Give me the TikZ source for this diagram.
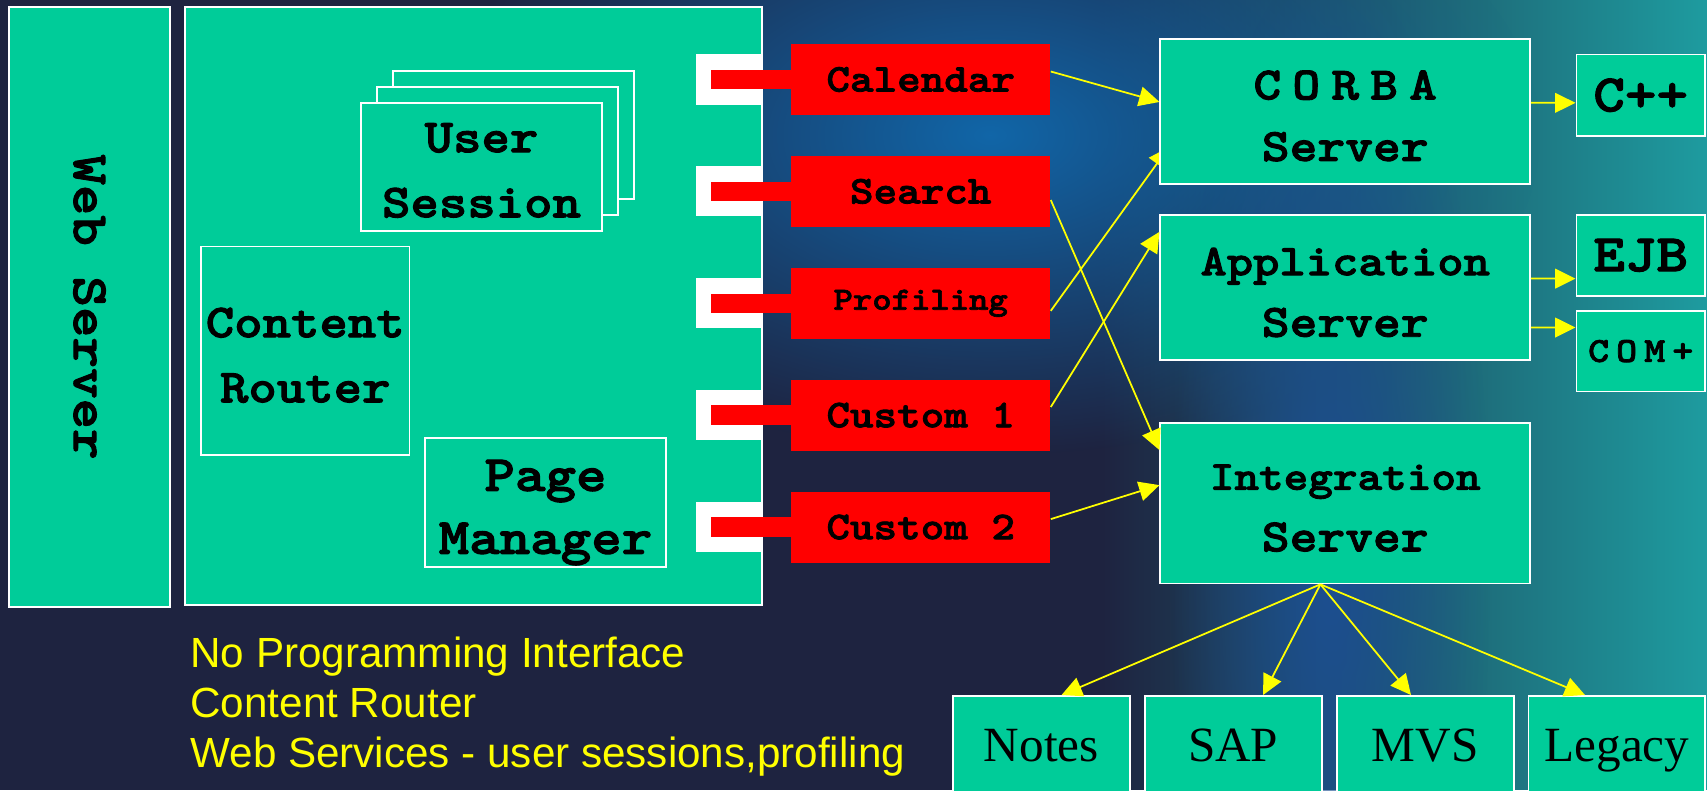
\documentclass[tikz,border=0pt]{standalone}
\usepackage{fontspec}
\setmainfont{Liberation Sans}
\newfontfamily\typefont[FakeStretch=1.14, FakeBold=2]{lmmonolt10-bold.otf}
\newfontfamily\timesfont{Liberation Serif}
\usetikzlibrary{arrows.meta,fadings}

\definecolor{boxgreen}{HTML}{00CC99}
\definecolor{plugred}{HTML}{FF0000}
\definecolor{wireyellow}{HTML}{FFFF00}
\definecolor{navy}{HTML}{1E2340}
\definecolor{glowblue}{HTML}{1166A8}
\definecolor{bandblue}{HTML}{1C4E92}
\definecolor{tealbg}{HTML}{1E9CA0}

\tikzfading[name=fade left, left color=transparent!100, right color=transparent!0]
\tikzfading[name=glow, inner color=transparent!0, outer color=transparent!100]

\pgfdeclarelayer{backdrop}
\pgfdeclarelayer{wires}
\pgfsetlayers{backdrop,wires,main}

\tikzset{
  box/.style={draw=white, line width=0.5pt, fill=boxgreen, inner sep=0pt, align=center},
  boxtext/.style={inner sep=0pt, align=center, font=\typefont\fontsize{13.5}{18.5}\selectfont},
  servertext/.style={boxtext, font=\typefont\fontsize{13.2}{17.5}\selectfont},
  port/.style={fill=white, inner sep=0pt, minimum width=0.655cm, minimum height=0.5cm},
  plugin/.style={fill=plugred, inner sep=0pt, minimum width=2.586cm, minimum height=0.71cm},
  plug/.style={draw=plugred, line width=0.195cm},
  server/.style={box, minimum width=3.695cm, minimum height=1.45cm},
  tech/.style={box, minimum width=1.286cm, font=\typefont\fontsize{15}{17}\selectfont},
  backend/.style={box, anchor=north, minimum width=1.767cm, minimum height=1.07cm, text height=0.344cm, text depth=0.1cm, font=\timesfont\fontsize{14}{16}\selectfont},
  wire/.style={draw=wireyellow, line width=0.5pt, -{Triangle[length=5.8pt,width=5.6pt]}},
  note/.style={anchor=base west, inner sep=0pt, text=wireyellow, font=\fontsize{12}{14}\selectfont}
}

\begin{document}
\begin{tikzpicture}[x=0.01cm, y=-0.01cm]
  \useasboundingbox (0,0) rectangle (1707,790);
  \clip (0,0) rectangle (1707,790);

  \begin{pgfonlayer}{backdrop}
    \fill[navy] (0,0) rectangle (1707,790);
    \fill[tealbg, path fading=fade left] (1100,0) rectangle (1707,790);
    \fill[glowblue, path fading=glow] (990,135) ellipse (5.5cm and 3.2cm);
    \fill[bandblue, path fading=glow] (1330,560) ellipse (1.6cm and 6cm);
  \end{pgfonlayer}

  % portal side
  \node[box, rotate=-90, minimum width=6cm, minimum height=1.61cm, font=\typefont\fontsize{14.5}{17}\selectfont] (web) at (89.5,307) {Web Server};
  \node[box, minimum width=5.77cm, minimum height=5.975cm] (portal) at (473.5,305.75) {};
  \node[box, minimum width=2.41cm, minimum height=1.28cm] (sess3) at (513.5,135) {};
  \node[box, minimum width=2.41cm, minimum height=1.28cm] (sess2) at (497.5,151) {};
  \node[box, minimum width=2.41cm, minimum height=1.28cm,
        label={[boxtext, yshift=-0.035cm]center:User\\Session}] (sess1) at (481.5,167) {};
  \node[box, minimum width=2.085cm, minimum height=2.085cm,
        label={[boxtext, yshift=-0.045cm]center:Content\\Router}] (router) at (305.25,350.75) {};
  \node[box, minimum width=2.41cm, minimum height=1.29cm,
        label={[boxtext, yshift=-0.1cm, font=\typefont\fontsize{14.5}{17.9}\selectfont]center:Page\\Manager}] (pager) at (545.5,502.5) {};

  % plug-ins
  \foreach \name/\txt/\y/\fs [count=\i] in {cal/Calendar/79.5/11.2, search/Search/191.4/11.2, prof/Profiling/303.3/9.2, cust1/Custom 1/415.2/11.2, cust2/Custom 2/527.1/11.2} {
    \node[port] (port\i) at (729.25,\y) {};
    \node[plugin, font=\typefont\fontsize{\fs}{13}\selectfont] (\name) at (920.7,\y) {\txt};
    \draw[plug] ([xshift=0.155cm]port\i.west) -- (\name.west);
  }

  % servers
  \node[server, label={[servertext, yshift=-0.046cm]center:{\addfontfeature{LetterSpace=24}CORBA}\\Server}] (corba) at (1345.2,111.35) {};
  \node[server, label={[servertext, yshift=-0.05cm]center:{\fontsize{12.5}{17.5}\selectfont Application}\\Server}] (app) at (1345.2,287.5) {};
  \node[server, minimum height=1.604cm, label={[servertext, yshift=-0.05cm]center:{\fontsize{11.7}{17.5}\selectfont Integration}\\Server}] (integ) at (1345.2,503.2) {};

  \node[tech, minimum height=0.816cm] (cpp) at (1640.7,95.2) {C++};
  \node[tech, minimum height=0.807cm] (ejb) at (1640.7,255.35) {EJB};
  \node[tech, minimum height=0.806cm, font=\typefont\fontsize{10}{12}\selectfont] (com) at (1640.7,351.1) {\addfontfeature{LetterSpace=20}COM+};

  \foreach \name/\txt/\x in {notes/Notes/1041.3, sap/SAP/1233.2, mvs/MVS/1425.2, legacy/Legacy/1616.9}
    \node[backend] (\name) at (\x,695) {\txt};

  % connectors
  \draw[wire] ([yshift=0.08cm]cal.east) -- ([yshift=0.094cm]corba.west);
  \draw[wire] ([yshift=-0.086cm]search.east) -- ([yshift=-0.28cm]integ.north west);
  \begin{pgfonlayer}{wires}
    \draw[wire, shorten >=-0.16cm] ([yshift=-0.075cm]prof.east) -- ([yshift=-0.487cm]corba.west);
  \end{pgfonlayer}
  \draw[wire] ([yshift=0.082cm]cust1.east) -- ([yshift=-0.177cm]app.north west);
  \draw[wire] ([yshift=0.08cm]cust2.east) -- ([yshift=-0.63cm]integ.north west);
  \draw[wire] ([yshift=0.085cm]corba.east) -- ([yshift=-0.076cm]cpp.west);
  \draw[wire] ([yshift=0.089cm]app.east) -- ([yshift=-0.2325cm]ejb.west);
  \draw[wire] ([yshift=-0.4cm]app.east) -- ([yshift=0.236cm]com.west);
  \coordinate (fan) at ([xshift=-0.248cm]integ.south);
  \draw[wire] (fan) -- ([xshift=0.202cm]notes.north);
  \draw[wire] (fan) -- ([xshift=0.298cm]sap.north);
  \draw[wire] (fan) -- ([xshift=-0.142cm]mvs.north);
  \draw[wire] (fan) -- ([xshift=-0.319cm]legacy.north);

  \node[note] (note1) at (189.8,667) {No Programming Interface};
  \node[note] (note2) at (189.8,717) {Content Router};
  \node[note] (note3) at (189.8,767) {Web Services - user sessions,profiling};
\end{tikzpicture}
\end{document}
